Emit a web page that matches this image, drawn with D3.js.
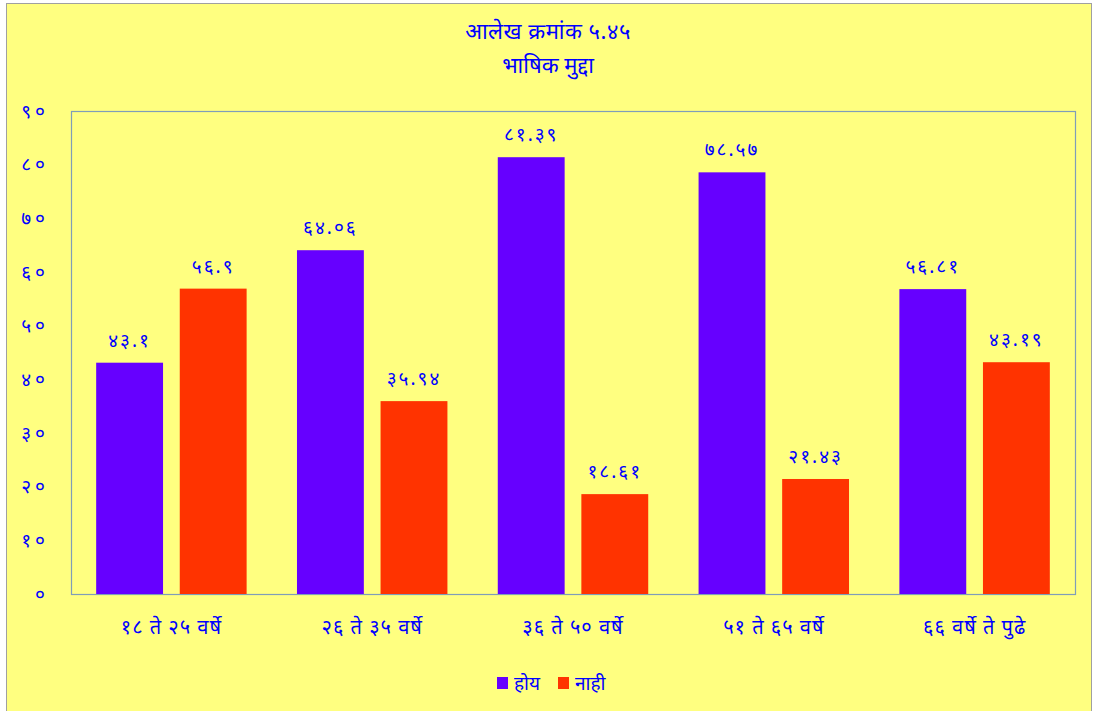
<!DOCTYPE html>
<html>
<head>
<meta charset="utf-8">
<script src="https://cdn.jsdelivr.net/npm/d3@7"></script>
<style>
  body { margin: 0; background: #fff; }
  text { font-family: "Noto Sans", "Noto Sans Devanagari", sans-serif; fill: #0000FF; }
</style>
</head>
<body>
<div id="chart"></div>
<script>
// data
const categories = ["१८ ते २५ वर्षे", "२६ ते ३५ वर्षे", "३६ ते ५० वर्षे", "५१ ते ६५ वर्षे", "६६ वर्षे ते पुढे"];
const seriesNames = ["होय", "नाही"];
const hoyValues = [43.1, 64.06, 81.39, 78.57, 56.81];
const nahiValues = [56.9, 35.94, 18.61, 21.43, 43.19];
const yTicks = [0, 10, 20, 30, 40, 50, 60, 70, 80, 90];
const titleLines = ["आलेख क्रमांक ५.४५", "भाषिक मुद्दा"];

const colors = ["#6600FF", "#FF3300"];

// convert latin digits to devanagari
const devaDigits = "०१२३४५६७८९";
const toDeva = (n) => String(n).replace(/[0-9]/g, (d) => devaDigits[+d]);

const W = 1093, H = 711;
const margin = { top: 111, right: 18, bottom: 117, left: 71 };
const width = W - margin.left - margin.right,
  height = H - margin.top - margin.bottom;

const data = categories.map((c, i) => ({ cat: c, vals: [hoyValues[i], nahiValues[i]] }));

const main = d3.select("#chart").append("svg").attr("width", W).attr("height", H);

// chart background
main.append("rect")
  .attr("x", 6.5).attr("y", 3.5)
  .attr("width", W - 8).attr("height", H)
  .attr("fill", "#FFFF80")
  .attr("stroke", "#A0A0A0");

// title
main.selectAll(".title")
  .data(titleLines)
  .enter()
  .append("text")
  .attr("x", 548)
  .attr("y", (d, i) => 39 + i * 34)
  .attr("text-anchor", "middle")
  .style("font-size", "22px")
  .style("letter-spacing", (d, i) => (i == 0 ? "0.5px" : "0px"))
  .text((d) => d);

const svg = main.append("g")
  .attr("transform", "translate(" + margin.left + "," + margin.top + ")");

// plot area border
svg.append("rect")
  .attr("x", 0.5).attr("y", 0.5)
  .attr("width", width).attr("height", height)
  .attr("fill", "none")
  .attr("stroke", "#7F9DB9")
  .attr("stroke-width", 1.2);

// scales
const x = d3.scaleBand().domain(categories).range([0, width]).padding(0);
const y = d3.scaleLinear().domain([0, 90]).range([height, 0]);

const barW = x.bandwidth() * 0.333;
const barGap = barW * 0.25;
const x1 = (i) => (x.bandwidth() - 2 * barW - barGap) / 2 + i * (barW + barGap);

// y axis labels
const yAxis = svg.append("g")
  .call(d3.axisLeft(y).tickValues(yTicks).tickSize(0).tickPadding(22).tickFormat(toDeva));
yAxis.select(".domain").remove();
yAxis.selectAll("text")
  .style("font-size", "19px")
  .style("letter-spacing", "4px")
  .attr("fill", "#0000FF");

// x axis labels
const xAxis = svg.append("g")
  .attr("transform", "translate(0," + height + ")")
  .call(d3.axisBottom(x).tickSize(0).tickPadding(26));
xAxis.select(".domain").remove();
xAxis.selectAll("text")
  .style("font-size", "20px")
  .style("letter-spacing", "1px")
  .attr("fill", "#0000FF");

// bars
const groups = svg.selectAll(".grp")
  .data(data)
  .enter()
  .append("g")
  .attr("transform", (d) => "translate(" + x(d.cat) + ",0)");

groups.selectAll("rect")
  .data((d) => d.vals)
  .enter()
  .append("rect")
  .attr("x", (d, i) => x1(i))
  .attr("y", (d) => y(d))
  .attr("width", barW)
  .attr("height", (d) => height - y(d))
  .attr("fill", (d, i) => colors[i]);

groups.selectAll(".val")
  .data((d) => d.vals)
  .enter()
  .append("text")
  .attr("x", (d, i) => x1(i) + barW / 2)
  .attr("y", (d) => y(d) - 16)
  .attr("text-anchor", "middle")
  .style("font-size", "19px")
  .style("letter-spacing", "2px")
  .text((d) => toDeva(d));

// legend
const legend = main.append("g").attr("transform", "translate(497,684)");
const legItems = legend.selectAll("g")
  .data(seriesNames)
  .enter()
  .append("g")
  .attr("transform", (d, i) => "translate(" + i * 61 + ",0)");
legItems.append("rect")
  .attr("x", 0).attr("y", -7)
  .attr("width", 11).attr("height", 12)
  .attr("fill", (d, i) => colors[i]);
legItems.append("text")
  .attr("x", 17).attr("y", 6)
  .style("font-size", "19px")
  .text((d) => d);
</script>
</body>
</html>
